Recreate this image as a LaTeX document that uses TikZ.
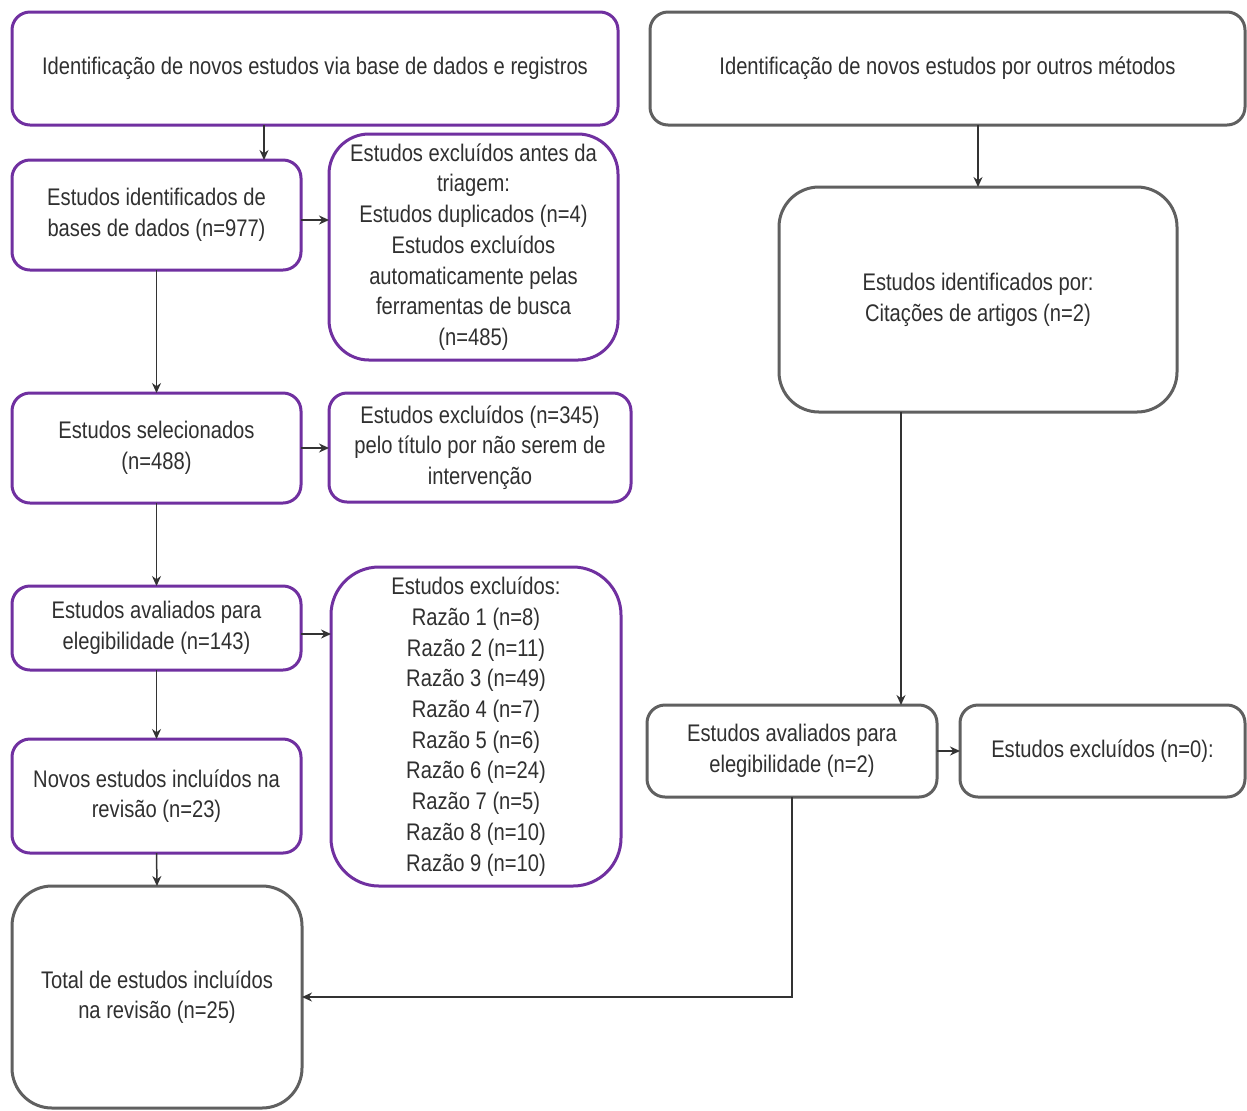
\documentclass[tikz,border=0pt]{standalone}
\usepackage{fontspec}
\setmainfont[FakeStretch=0.84]{Liberation Sans}
\usetikzlibrary{arrows.meta,calc}
\definecolor{purp}{HTML}{7030A0}
\definecolor{gbord}{HTML}{606060}
\definecolor{txt}{HTML}{303030}
\begin{document}
\begin{tikzpicture}[
  every node/.style={inner sep=0pt, outer sep=0pt, align=center, text=txt,
     font=\fontsize{12pt}{15.35pt}\selectfont},
  pbox/.style={draw=purp, line width=1.5pt, rounded corners=9pt, fill=white},
  gbox/.style={draw=gbord, line width=1.5pt, rounded corners=9pt, fill=white},
  arr/.style={draw=black!80, line width=0.75pt, -{Stealth[length=5pt,width=4.5pt]}}
]
\useasboundingbox (0,0) rectangle (623.5pt,-555pt);
\fill[white] (0,0) rectangle (623.5pt,-555pt);

\node[pbox, minimum width=303pt, minimum height=56.5pt] (b1) at (157.5pt,-34.25pt)
  {Identificação de novos estudos via base de dados e registros};
\node[gbox, minimum width=297.5pt, minimum height=56.5pt] (b2) at (473.75pt,-34.25pt)
  {Identificação de novos estudos por outros métodos};
\node[pbox, minimum width=144.5pt, minimum height=55pt] (b3) at (78.25pt,-107.5pt)
  {Estudos identificados de\\bases de dados (n=977)};
\node[pbox, rounded corners=20pt, minimum width=144.5pt, minimum height=113pt] (b4) at (236.75pt,-123.5pt)
  {Estudos excluídos antes da\\triagem:\\Estudos duplicados (n=4)\\Estudos excluídos\\automaticamente pelas\\ferramentas de busca\\(n=485)};
\node[pbox, minimum width=144.5pt, minimum height=55pt] (b5) at (78.25pt,-224pt)
  {Estudos selecionados\\(n=488)};
\node[pbox, minimum width=151pt, minimum height=54.5pt] (b6) at (240pt,-223.75pt)
  {Estudos excluídos (n=345)\\pelo título por não serem de\\intervenção};
\node[pbox, minimum width=144.5pt, minimum height=42pt] (b7) at (78.25pt,-314pt)
  {Estudos avaliados para\\elegibilidade (n=143)};
\node[pbox, rounded corners=24pt, minimum width=145pt, minimum height=159.5pt] (b8) at (238pt,-363.25pt)
  {Estudos excluídos:\\Razão 1 (n=8)\\Razão 2 (n=11)\\Razão 3 (n=49)\\Razão 4 (n=7)\\Razão 5 (n=6)\\Razão 6 (n=24)\\Razão 7 (n=5)\\Razão 8 (n=10)\\Razão 9 (n=10)};
\node[pbox, minimum width=144.5pt, minimum height=57pt] (b9) at (78.25pt,-398pt)
  {Novos estudos incluídos na\\revisão (n=23)};
\node[gbox, rounded corners=20pt, minimum width=145pt, minimum height=111pt] (b10) at (78.5pt,-498.5pt)
  {Total de estudos incluídos\\na revisão (n=25)};
\node[gbox, rounded corners=20pt, minimum width=199pt, minimum height=112.5pt] (b11) at (489pt,-149.75pt)
  {Estudos identificados por:\\Citações de artigos (n=2)};
\node[gbox, minimum width=145pt, minimum height=46pt] (b12) at (396pt,-375.5pt)
  {Estudos avaliados para\\elegibilidade (n=2)};
\node[gbox, minimum width=142.5pt, minimum height=46pt] (b13) at (551.25pt,-375.5pt)
  {Estudos excluídos (n=0):};

\coordinate (a1) at (132pt,0pt);
\coordinate (a2) at (450.5pt,0pt);

\draw[arr] (b1.south -| a1) -- (b3.north -| a1);
\draw[arr] ($(b3.east)+(0,-2.5pt)$) -- ($(b3.east -| b4.west)+(0,-2.5pt)$);
\draw[arr] (b3.south) -- (b5.north);
\draw[arr] (b5.east) -- (b5.east -| b6.west);
\draw[arr] (b5.south) -- (b7.north);
\draw[arr] ($(b7.east)+(0,-3pt)$) -- ($(b7.east -| b8.west)+(0,-3pt)$);
\draw[arr] (b7.south) -- (b9.north);
\draw[arr] (b9.south) -- (b10.north);
\draw[arr] (b2.south -| b11.north) -- (b11.north);
\draw[arr] (b11.south -| a2) -- (b12.north -| a2);
\draw[arr] (b12.east) -- (b12.east -| b13.west);
\draw[arr] (b12.south) -- (b12.south |- b10.east) -- (b10.east);
\end{tikzpicture}
\end{document}
